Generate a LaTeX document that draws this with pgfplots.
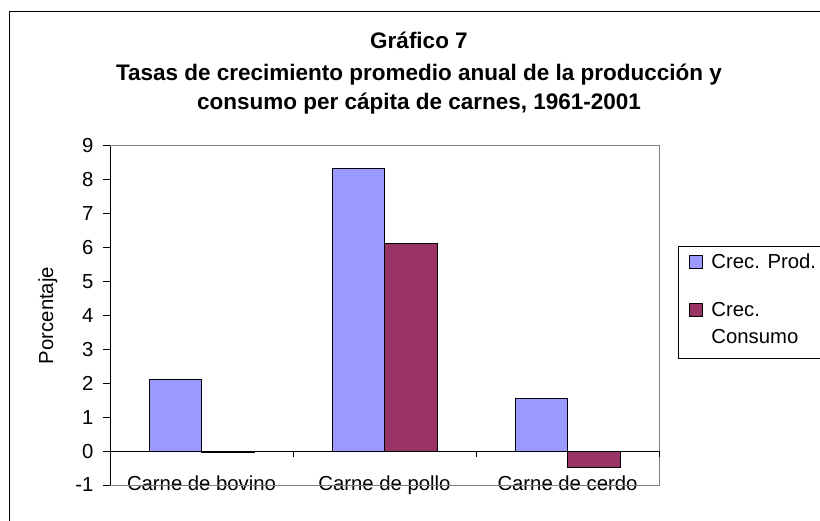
\documentclass[border=0pt]{standalone}
\usepackage{pgfplots}
\pgfplotsset{compat=1.18}
\usepackage{fontspec}
\setmainfont{Liberation Sans}
\definecolor{prodBlue}{RGB}{153,153,255}
\definecolor{consPlum}{RGB}{153,51,102}
\definecolor{frameGray}{RGB}{128,128,128}

\begin{document}
\begin{tikzpicture}[x=1pt,y=1pt]
  \path[use as bounding box, clip] (0,0) rectangle (820,520);
  % outer chart border
  \draw[line width=1pt] (9,-5) -- (9,508) -- (830,508);
  % title
  \node[anchor=base, font=\fontsize{22.5}{27}\selectfont\bfseries] at (419,471) {Gráfico 7};
  \node[anchor=base, font=\fontsize{22.5}{27}\selectfont\bfseries] at (419,439) {Tasas de crecimiento promedio anual de la producción y};
  \node[anchor=base, font=\fontsize{22.5}{27}\selectfont\bfseries] at (419,410) {consumo per cápita de carnes, 1961-2001};

  \begin{axis}[
      at={(110pt,35pt)}, anchor=south west,
      width=549pt, height=339pt, scale only axis,
      ybar=0pt, bar width=52.5pt,
      xmin=-0.5, xmax=2.5, ymin=-1, ymax=9,
      xtick={0,1,2},
      xticklabels={Carne de bovino, Carne de pollo, Carne de cerdo},
      ytick={-1,0,...,9},
      axis line style={draw=none},
      xtick style={draw=none},
      ytick pos=left,
      ytick style={black, line width=1pt},
      tick align=outside, major tick length=7pt,
      /pgf/number format/assume math mode=true,
      tick label style={font=\fontsize{20.3}{24}\selectfont},
      yticklabel style={xshift=-6pt},
      xticklabel style={anchor=base, yshift=2pt},
      ylabel={Porcentaje},
      ylabel style={at={(axis description cs:-0.113,0.5)}, anchor=center, font=\fontsize{20.3}{24}\selectfont},
      clip=false,
      legend image code/.code={\draw[#1, line width=1pt] (0pt,0pt) rectangle (13pt,13pt);},
      legend cell align=left,
      legend style={at={(1.0346,0.705)}, anchor=north west, draw=black, line width=1pt,
        fill=white, inner xsep=11pt, inner ysep=7pt, row sep=29pt, column sep=8pt,
        font=\fontsize{20.3}{27}\selectfont,
        cells={anchor=base west},
        nodes={inner sep=0pt, text depth=}},
    ]
    % Crec. Prod.
    \addplot[fill=prodBlue, draw=black, line width=1pt] coordinates {
      (0,2.1) (1,8.35) (2,1.55)
    };
    % Crec. Consumo
    \addplot[fill=consPlum, draw=black, line width=1pt] coordinates {
      (0,-0.05) (1,6.12) (2,-0.47)
    };
    \addlegendentry{Crec. Prod.}
    \addlegendentry{\begin{tabular}[t]{@{}l@{}}Crec.\\Consumo\end{tabular}}
    % plot frame and zero line
    \draw[frameGray, line width=1pt] (rel axis cs:0,1) -- (rel axis cs:1,1) -- (rel axis cs:1,0) -- (rel axis cs:0,0);
    \draw[black, line width=1pt] (rel axis cs:0,0) -- (rel axis cs:0,1);
    \draw[black, line width=1pt] (axis cs:-0.5,0) -- (axis cs:2.5,0);
    \draw[black, line width=1pt] (axis cs:0.5,0) -- ++(0pt,-6pt);
    \draw[black, line width=1pt] (axis cs:1.5,0) -- ++(0pt,-6pt);
    \draw[black, line width=1pt] (axis cs:2.5,0) -- ++(0pt,-6pt);
  \end{axis}
\end{tikzpicture}
\end{document}
